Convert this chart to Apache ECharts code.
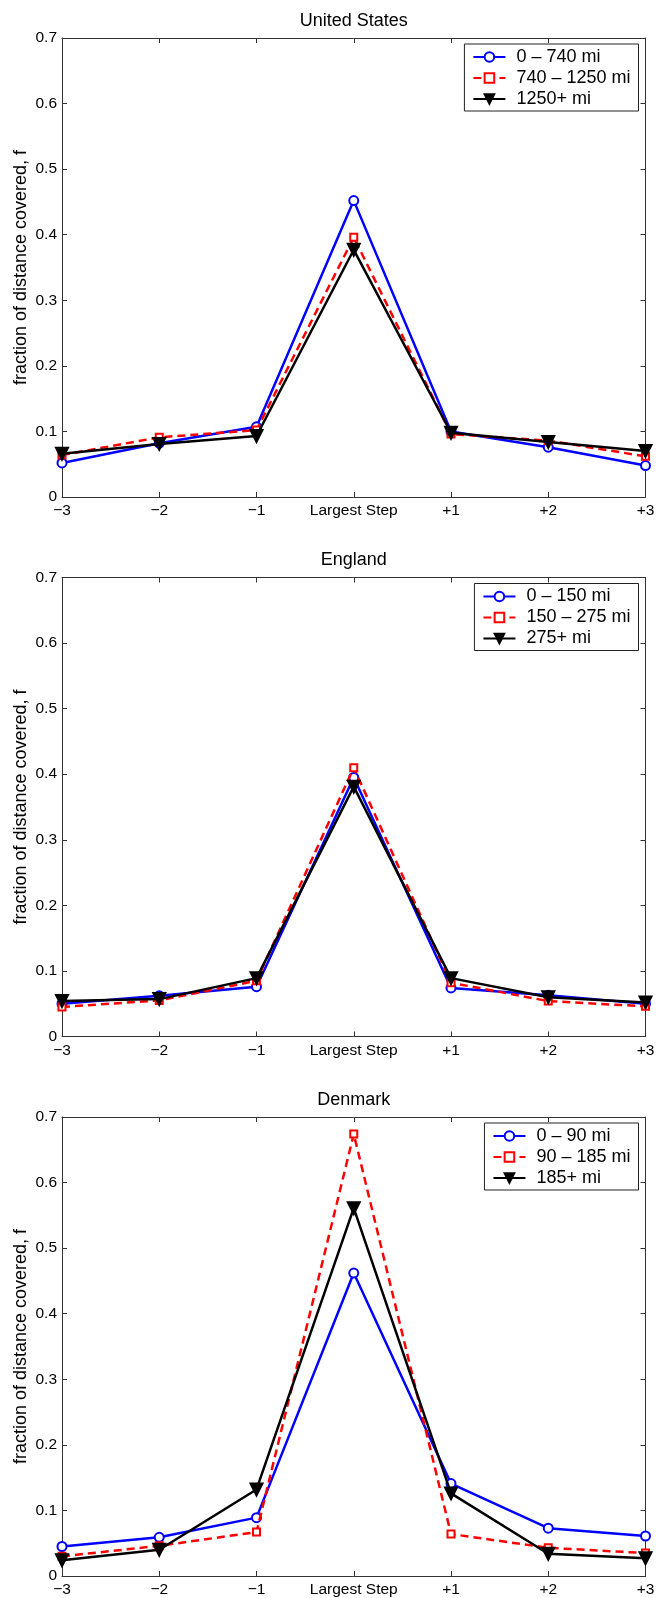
<!DOCTYPE html>
<html>
<head>
<meta charset="utf-8">
<script src="https://cdn.jsdelivr.net/npm/echarts@6/dist/echarts.min.js"></script>
<style>
html,body{margin:0;padding:0;background:#fff;}
#chart{width:663px;height:1598px;}
</style>
</head>
<body>
<div id="chart"></div>
<script>
// ---- data ----
var categories = ['\u22123', '\u22122', '\u22121', 'Largest Step', '+1', '+2', '+3'];
var panelTitles = ['United States', 'England', 'Denmark'];

var usLegend = ['0 \u2013 740 mi', '740 \u2013 1250 mi', '1250+ mi'];
var usNear = [0.052, 0.082, 0.107, 0.452, 0.100, 0.076, 0.048];
var usMid  = [0.064, 0.091, 0.102, 0.396, 0.096, 0.086, 0.062];
var usFar  = [0.066, 0.081, 0.093, 0.377, 0.098, 0.084, 0.070];

var engLegend = ['0 \u2013 150 mi', '150 \u2013 275 mi', '275+ mi'];
var engNear = [0.050, 0.062, 0.076, 0.395, 0.074, 0.063, 0.050];
var engMid  = [0.045, 0.055, 0.085, 0.410, 0.082, 0.054, 0.046];
var engFar  = [0.054, 0.057, 0.089, 0.381, 0.089, 0.060, 0.052];

var denLegend = ['0 \u2013 90 mi', '90 \u2013 185 mi', '185+ mi'];
var denNear = [0.045, 0.059, 0.089, 0.462, 0.141, 0.073, 0.061];
var denMid  = [0.030, 0.046, 0.067, 0.674, 0.064, 0.043, 0.035];
var denFar  = [0.024, 0.040, 0.132, 0.561, 0.126, 0.034, 0.027];

// ---- layout ----
var FONT = '"Liberation Sans", Arial, Helvetica, sans-serif';
var gridLeft = 62, gridWidth = 583.5, gridHeight = 459;
var gridTops = [38, 577.5, 1117];
var legends = [usLegend, engLegend, denLegend];
var seriesData = [[usNear, usMid, usFar], [engNear, engMid, engFar], [denNear, denMid, denFar]];

var AXIS_COLOR = '#333';
var styles = [
  {color: '#0000ff', type: 'solid', symbol: 'emptyCircle', size: 9, rotate: 0},
  {color: '#ff0000', type: [8, 5], symbol: 'emptyRect', size: 7, rotate: 0},
  {color: '#000000', type: 'solid', symbol: 'triangle', size: 12, rotate: 180}
];

var option = {backgroundColor: '#fff', animation: false, title: [], grid: [], xAxis: [], yAxis: [], legend: [], series: []};

for (var p = 0; p < 3; p++) {
  var gTop = gridTops[p];
  option.title.push({
    text: panelTitles[p],
    left: gridLeft + gridWidth / 2,
    textAlign: 'center',
    top: gTop - 26,
    padding: 0,
    textStyle: {fontFamily: FONT, fontSize: 18, fontWeight: 'normal', color: '#000'}
  });
  option.grid.push({left: gridLeft, top: gTop, width: gridWidth, height: gridHeight});
  option.xAxis.push({
    type: 'category', gridIndex: p, data: categories, boundaryGap: false, position: 'bottom',
    axisLine: {show: true, onZero: false, lineStyle: {color: AXIS_COLOR, width: 1}},
    axisTick: {show: true, inside: true, length: 5, lineStyle: {color: AXIS_COLOR}},
    axisLabel: {show: true, interval: 0, margin: 6, fontFamily: FONT, fontSize: 15.5, color: '#000'},
    splitLine: {show: false}
  });
  option.xAxis.push({
    type: 'category', gridIndex: p, data: categories, boundaryGap: false, position: 'top',
    axisLine: {show: true, onZero: false, lineStyle: {color: AXIS_COLOR, width: 1}},
    axisTick: {show: true, inside: true, length: 5, lineStyle: {color: AXIS_COLOR}},
    axisLabel: {show: false},
    splitLine: {show: false}
  });
  option.yAxis.push({
    type: 'value', gridIndex: p, min: 0, max: 0.7, interval: 0.1, position: 'left',
    name: 'fraction of distance covered, f', nameLocation: 'middle', nameGap: 32,
    nameMoveOverlap: false,
    nameTextStyle: {fontFamily: FONT, fontSize: 18, color: '#000'},
    axisLine: {show: true, onZero: false, lineStyle: {color: AXIS_COLOR, width: 1}},
    axisTick: {show: true, inside: true, length: 5, lineStyle: {color: AXIS_COLOR}},
    axisLabel: {show: true, margin: 5, fontFamily: FONT, fontSize: 15.5, color: '#000',
      formatter: function (v) { return v === 0 ? '0' : v.toFixed(1); }},
    splitLine: {show: false}
  });
  option.yAxis.push({
    type: 'value', gridIndex: p, min: 0, max: 0.7, interval: 0.1, position: 'right',
    axisLine: {show: true, onZero: false, lineStyle: {color: AXIS_COLOR, width: 1}},
    axisTick: {show: true, inside: true, length: 5, lineStyle: {color: AXIS_COLOR}},
    axisLabel: {show: false},
    splitLine: {show: false}
  });
  option.legend.push({
    data: legends[p],
    orient: 'vertical',
    right: 24.5,
    top: gTop + 6,
    padding: [3, 8, 2, 8],
    itemGap: 1,
    itemWidth: 32,
    itemHeight: 12,
    borderColor: '#222',
    borderWidth: 1,
    backgroundColor: '#fff',
    selectedMode: false,
    textStyle: {fontFamily: FONT, fontSize: 18, color: '#000', lineHeight: 20, padding: [0, 0, 0, 6]}
  });
  for (var s = 0; s < 3; s++) {
    var st = styles[s];
    option.series.push({
      type: 'line',
      name: legends[p][s],
      xAxisIndex: p * 2,
      yAxisIndex: p * 2,
      data: seriesData[p][s],
      symbol: st.symbol,
      symbolSize: st.size,
      symbolRotate: st.rotate,
      lineStyle: {color: st.color, width: 2.5, type: st.type},
      itemStyle: {color: st.color, borderColor: st.color, borderWidth: 2},
      z: 2 + s
    });
  }
}

var chart = echarts.init(document.getElementById('chart'));
chart.setOption(option);
</script>
</body>
</html>
